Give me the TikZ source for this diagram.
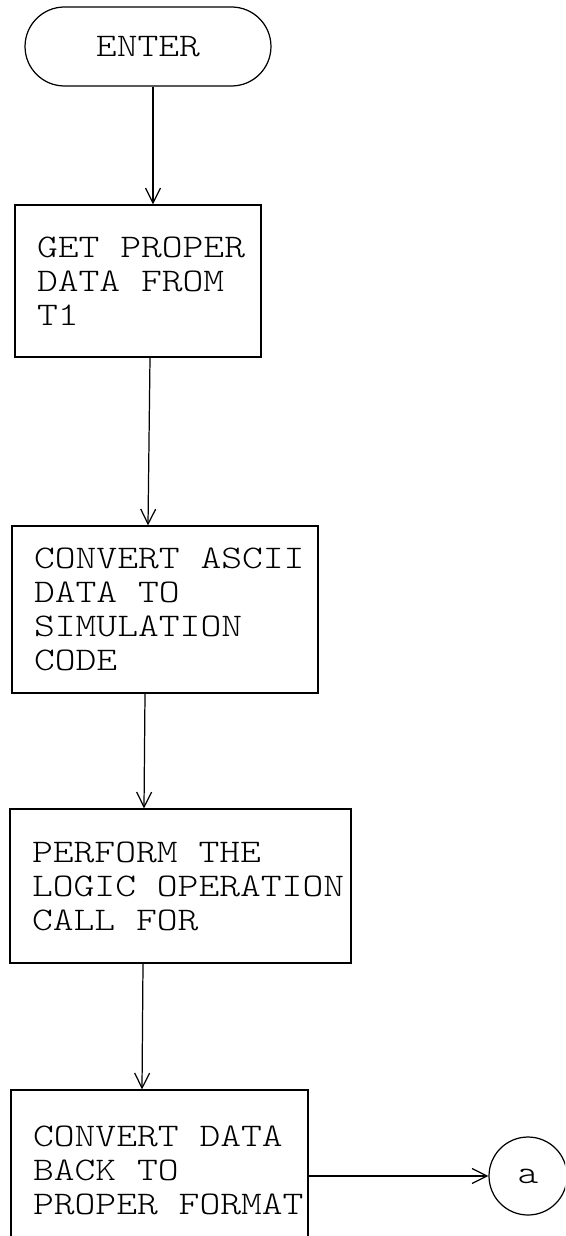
\documentclass[tikz,border=0pt]{standalone}
\usepackage{fontspec}
\newfontfamily\typewriter{lmmonolt10-regular}[Extension=.otf,FakeStretch=1.2]
\usetikzlibrary{shapes.misc,arrows.meta,calc}

\begin{document}
\begin{tikzpicture}[x=0.02cm,y=-0.02cm,
  every node/.style={font=\typewriter\fontsize{18.8pt}{19.4pt}\selectfont},
  process/.style={draw,line width=0.7pt,align=left,inner xsep=0.44cm,inner ysep=0pt,
    execute at begin node={\spaceskip=0pt\xspaceskip=0pt}},
  terminal/.style={draw,line width=0.7pt,rounded rectangle,inner sep=0pt,
    minimum width=4.92cm,minimum height=1.58cm},
  connector/.style={draw,circle,line width=0.7pt,inner sep=0pt,minimum size=1.56cm},
  flow/.style={-{Straight Barb[length=0.3cm,width=0.3cm]},line width=0.7pt}]

  \useasboundingbox (0,0) rectangle (565,1236);
  \clip (0,0) rectangle (565,1236);

  \node[terminal] (enter) at (148,46.5) {ENTER};

  \node[process,text width=4.04cm,minimum height=3.04cm] (get) at (138,281)
    {\mbox{GET PROPER}\\\mbox{DATA FROM}\\T1};
  \node[process,text width=5.24cm,minimum height=3.34cm] (ascii) at (165,609.5)
    {\mbox{CONVERT ASCII}\\\mbox{DATA TO}\\\mbox{SIMULATION}\\\mbox{CODE}};
  \node[process,text width=5.94cm,minimum height=3.08cm] (logic) at (180.5,886)
    {\mbox{PERFORM THE}\\\mbox{LOGIC OPERATION}\\\mbox{CALL FOR}};
  \node[process,text width=5.06cm,minimum height=3.2cm] (back) at (159.5,1170)
    {\mbox{CONVERT DATA}\\\mbox{BACK TO}\\\mbox{PROPER FORMAT}};

  \node[connector] (a) at (528,1176) {a};

  \draw[flow] ($(enter.south)+(5,0)$) -- ($(get.north)+(15,0)$);
  \draw[flow] ($(get.south)+(12,0)$) -- ($(ascii.north)+(-17,0)$);
  \draw[flow] ($(ascii.south)+(-20,0)$) -- ($(logic.north)+(-36.5,0)$);
  \draw[flow] ($(logic.south)+(-37.5,0)$) -- ($(back.north)+(-17.5,0)$);
  \draw[flow] (back.east |- a.west) -- (a.west);

\end{tikzpicture}
\end{document}
